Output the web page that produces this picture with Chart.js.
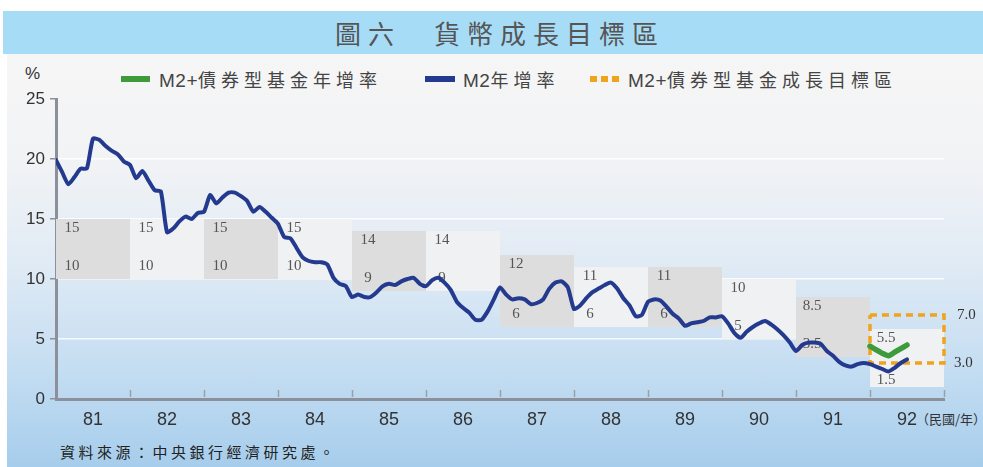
<!DOCTYPE html>
<html>
<head>
<meta charset="utf-8">
<script src="https://cdn.jsdelivr.net/npm/chart.js@4.4.0/dist/chart.umd.min.js"></script>
<style>
  body { margin: 0; width: 983px; height: 467px; background: #ffffff; overflow: hidden; position: relative; }
  #panel { position: absolute; left: 7px; top: 54px; width: 976px; height: 413px;
    background: linear-gradient(#f6f6f6 0%, #f2f3f5 25%, #e1ebf5 50%, #c6def2 75%, #a6cdec 100%); }
  #titlebar { position: absolute; left: 3px; top: 11px; width: 980px; height: 43px; background: #a7dcf7;
    font-family: "Noto Sans CJK TC", sans-serif; font-size: 26px; color: #555; letter-spacing: 7px;
    text-align: center; line-height: 43px; padding-left: 14px; box-sizing: border-box; }
  .lg { position: absolute; top: 68px; font-family: "Noto Sans CJK TC", sans-serif;
    font-size: 18px; color: #444; letter-spacing: 5px; white-space: nowrap; line-height: 22px; }
  .lg b { font-weight: normal; font-family: "Liberation Sans", sans-serif; letter-spacing: 0.5px; font-size: 19px; }
  .sw { position: absolute; top: 76px; height: 6px; }
  #pct { position: absolute; left: 25px; top: 64px; font-family: "Liberation Sans", sans-serif; font-size: 17px; color: #333; }
  #unit { position: absolute; left: 916px; top: 409px; font-family: "Noto Sans CJK TC", sans-serif; font-size: 13px;
    color: #333; letter-spacing: 0; }
  #source { position: absolute; left: 60px; top: 441px; font-family: "Noto Sans CJK TC", sans-serif; font-size: 15px;
    color: #222; letter-spacing: 3.5px; }
  canvas { position: absolute; left: 0; top: 0; }
</style>
</head>
<body>
<div id="panel"></div>
<div id="titlebar">圖六　貨幣成長目標區</div>
<div id="pct">%</div>
<div class="sw" style="left:121px;width:29px;background:#3e9b3a;"></div>
<div class="lg" style="left:159px;"><b>M2+</b>債券型基金年增率</div>
<div class="sw" style="left:425px;width:30px;background:#233a8e;"></div>
<div class="lg" style="left:463px;"><b>M2</b>年增率</div>
<div class="sw" style="left:590px;width:29px;background:repeating-linear-gradient(90deg,#f0a31c 0 7px,transparent 7px 11px);"></div>
<div class="lg" style="left:628px;"><b>M2+</b>債券型基金成長目標區</div>
<div id="unit">（民國/年）</div>
<div id="source">資料來源：中央銀行經濟研究處。</div>
<canvas id="chart" width="983" height="467"></canvas>
<script>
// Year categories (ROC years) and monthly M2 growth, Jan 81 onward
const yearLabels = ["81", "82", "83", "84", "85", "86", "87", "88", "89", "90", "91", "92"];

// Target zone per year (upper / lower bound, %)
const bandHigh = [15, 15, 15, 15, 14, 14, 12, 11, 11, 10, 8.5, 5.5];
const bandLow = [10, 10, 10, 10, 9, 9, 6, 6, 6, 5, 3.5, 1.5];

// M2 + bond funds target zone for 92 (%)
const targetRange = [3.0, 7.0];

// M2 annual growth rate, monthly (%)
const m2Growth = [
    19.9, 18.9, 17.9, 18.5, 19.2, 19.2, 21.7, 21.6, 21.1, 20.7, 20.4, 19.8,
    19.5, 18.4, 19.0, 18.2, 17.4, 17.3, 13.9, 14.2, 14.8, 15.2, 15.0, 15.5,
    15.6, 17.0, 16.3, 16.8, 17.2, 17.2, 16.9, 16.5, 15.6, 16.0, 15.6, 15.1,
    14.6, 13.5, 13.4, 12.6, 11.8, 11.5, 11.4, 11.4, 11.2, 10.1, 9.6, 9.4,
    8.5, 8.7, 8.5, 8.5, 8.9, 9.4, 9.6, 9.5, 9.8, 10.0, 10.1, 9.6,
    9.4, 9.9, 10.1, 9.7, 9.1, 8.1, 7.6, 7.2, 6.6, 6.6, 7.3, 8.3,
    9.3, 8.7, 8.3, 8.4, 8.3, 7.9, 8.0, 8.3, 9.2, 9.7, 9.8, 9.3,
    7.5, 7.8, 8.4, 8.9, 9.2, 9.5, 9.7, 9.2, 8.4, 7.8, 6.9, 7.0,
    8.1, 8.3, 8.2, 7.7, 7.1, 6.7, 6.1, 6.3, 6.4, 6.5, 6.8, 6.8,
    6.9, 6.3, 5.5, 5.1, 5.6, 6.0, 6.3, 6.5, 6.2, 5.8, 5.3, 4.7,
    4.0, 4.5, 4.7, 4.7, 4.6, 4.0, 3.6, 3.1, 2.8, 2.7, 2.9, 3.0,
    2.9, 2.7, 2.5, 2.3, 2.6, 3.0, 3.3
];

// M2 + bond funds annual growth rate, monthly from Jan 92 (%)
const m2PlusBond = [4.4, 4.1, 3.8, 3.6, 3.9, 4.2, 4.5];
const bondStartMonth = 132; // Jan 92, counted from Jan 81

const monthsPerYear = 12;
const totalMonths = yearLabels.length * monthsPerYear;
const targetYear = yearLabels.length - 1;

// Build point lists for the line datasets
const m2Points = m2Growth.map((v, i) => ({ x: i, y: v }));
const bondPoints = m2PlusBond.map((v, i) => ({ x: bondStartMonth + i, y: v }));
const tx0 = targetYear * monthsPerYear, tx1 = totalMonths;
const targetPoints = [
    { x: tx0, y: targetRange[1] }, { x: tx1, y: targetRange[1] },
    { x: tx1, y: targetRange[0] }, { x: tx0, y: targetRange[0] }, { x: tx0, y: targetRange[1] }
];

// Shaded target-zone boxes with their bound labels, drawn under the lines
const bandPlugin = {
    id: "bands",
    beforeDatasetsDraw(chart) {
        const { ctx, scales: { x, y } } = chart;
        ctx.save();
        const boxes = bandHigh.map((hi, k) => {
            let top = y.getPixelForValue(hi);
            let bot = y.getPixelForValue(bandLow[k]);
            if (k === targetYear) { top -= 4; bot += 6; } // last box drawn a little larger in the source
            return {
                x0: x.getPixelForValue(k * monthsPerYear),
                x1: x.getPixelForValue((k + 1) * monthsPerYear),
                top, bot
            };
        });
        boxes.forEach((b, k) => {
            ctx.fillStyle = k % 2 === 0 ? "#dddddd" : "#f0f1f3";
            ctx.fillRect(b.x0, b.top, b.x1 - b.x0, b.bot - b.top);
        });
        ctx.font = "15px 'Liberation Serif', serif";
        ctx.fillStyle = "#555";
        ctx.textAlign = "center";
        ctx.textBaseline = "middle";
        boxes.forEach((b, k) => {
            ctx.fillText(String(bandHigh[k]), b.x0 + 16, b.top + 9);
            ctx.fillText(String(bandLow[k]), b.x0 + 16, b.bot - (k === targetYear ? 7 : 13));
        });
        ctx.restore();
    },
    afterDraw(chart) {
        const { ctx, chartArea, scales: { x, y } } = chart;
        ctx.save();
        // year boundary ticks on the x axis
        ctx.strokeStyle = "#9aa0aa";
        ctx.lineWidth = 1.5;
        for (let k = 1; k <= yearLabels.length; k++) {
            const px = Math.round(x.getPixelForValue(k * monthsPerYear)) + 0.5;
            ctx.beginPath();
            ctx.moveTo(px, chartArea.bottom - 9);
            ctx.lineTo(px, chartArea.bottom - 2);
            ctx.stroke();
        }
        // labels of the target zone, right of the plot
        ctx.font = "15px 'Liberation Serif', serif";
        ctx.fillStyle = "#333";
        ctx.textAlign = "left";
        ctx.textBaseline = "middle";
        ctx.fillText(targetRange[1].toFixed(1), chartArea.right + 13, y.getPixelForValue(targetRange[1]));
        ctx.fillText(targetRange[0].toFixed(1), chartArea.right + 10, y.getPixelForValue(targetRange[0]));
        ctx.restore();
    }
};

new Chart(document.getElementById("chart"), {
    type: "line",
    data: {
        datasets: [
            {
                label: "M2年增率",
                data: m2Points,
                borderColor: "#233a8e",
                borderWidth: 4,
                tension: 0.2,
                pointRadius: 0,
                borderJoinStyle: "round",
                borderCapStyle: "round"
            },
            {
                label: "M2+債券型基金年增率",
                data: bondPoints,
                borderColor: "#3e9b3a",
                borderWidth: 5.5,
                tension: 0.2,
                pointRadius: 0,
                borderJoinStyle: "round",
                borderCapStyle: "round"
            },
            {
                label: "M2+債券型基金成長目標區",
                data: targetPoints,
                borderColor: "#f0a31c",
                borderWidth: 3.5,
                borderDash: [7, 5],
                tension: 0,
                pointRadius: 0,
                clip: false
            }
        ]
    },
    options: {
        responsive: false,
        animation: false,
        devicePixelRatio: 1,
        layout: { padding: { top: 99, left: 0, right: 39, bottom: 38 } },
        plugins: { legend: { display: false }, tooltip: { enabled: false } },
        scales: {
            x: {
                type: "linear",
                min: 0,
                max: totalMonths,
                afterBuildTicks(scale) {
                    scale.ticks = yearLabels.map((_, k) => ({ value: k * monthsPerYear + monthsPerYear / 2 }));
                },
                afterFit(scale) { scale.height = 30; },
                grid: { display: false, drawTicks: false },
                border: { color: "#8c909a", width: 3 },
                ticks: {
                    autoSkip: false,
                    maxRotation: 0,
                    padding: 10,
                    color: "#333",
                    font: { family: "'Liberation Sans', Arial, sans-serif", size: 18 },
                    callback: (v) => yearLabels[Math.round((v - monthsPerYear / 2) / monthsPerYear)]
                }
            },
            y: {
                min: 0,
                max: 25,
                afterFit(scale) { scale.width = 56; },
                grid: {
                    color: (c) => (c.tick && c.tick.value > 0 && c.tick.value < 25) ? "rgba(255,255,255,0.85)" : "rgba(0,0,0,0)",
                    lineWidth: 1.5,
                    tickLength: 6,
                    tickColor: "#8c909a"
                },
                border: { color: "#8c909a", width: 3 },
                ticks: {
                    stepSize: 5,
                    padding: 5,
                    color: "#333",
                    font: { family: "'Liberation Sans', Arial, sans-serif", size: 17 }
                }
            }
        }
    },
    plugins: [bandPlugin]
});
</script>
</body>
</html>
